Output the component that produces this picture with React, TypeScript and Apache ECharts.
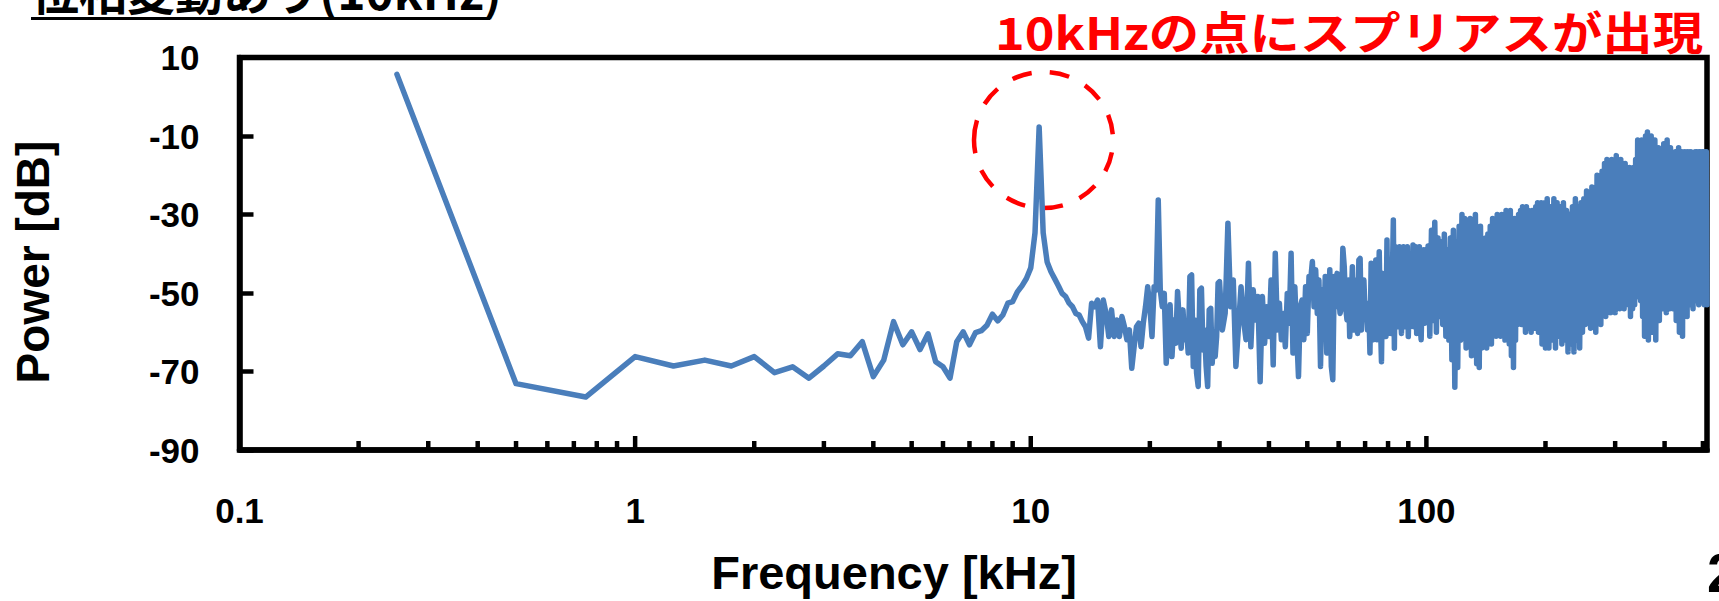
import React, { useEffect, useRef } from 'react';
import * as echarts from 'echarts';

// Power [dB].
// Segment A: bins every 0.25 kHz starting at 0.25 kHz
const powerA: number[] = [
  5.7, -73.1, -76.5, -66.2, -68.6, -67.1, -68.6, -66.2, -70.3, -68.8,
  -71.7, -68.6, -65.5, -66.0, -62.4, -71.3, -67.1, -57.3, -63.2, -59.9,
  -64.4, -60.4, -67.5, -68.8, -71.7, -62.4, -59.9, -63.2, -60.1, -59.6,
  -58.2, -55.4, -57.1, -55.6, -52.6, -52.2, -49.7, -48.2, -46.3, -43.6,
  -34.7, -7.7, -34.7, -42.1, -44.6, -46.4, -48.2, -50.1, -50.9, -52.6,
  -53.5, -55.2, -55.6, -57.3, -58.6, -61.5, -52.6, -53.5, -51.8, -63.7,
  -51.8, -55.2, -61.1, -54.3, -61.1, -56.9, -61.1, -56.0, -58.6, -61.9,
  -59.4, -69.2, -63.7, -58.6, -57.7, -63.7, -57.7, -53.5, -48.4, -53.5,
  -61.1, -48.4, -49.2, -26.3, -49.2, -53.5, -50.1, -67.9, -57.7, -53.0,
  -66.2, -56.9, -62.8, -49.6, -57.7, -64.1, -54.3, -61.9, -58.6, -65.3,
  -45.8, -45.4, -68.7, -56.9, -70.4, -73.8, -49.2, -48.8, -64.5, -59.4,
  -68.7, -73.8, -54.3, -53.9, -67.9, -59.8, -66.2, -61.1, -47.5, -47.1,
];
// Segment B: every 0.5 kHz from 30.5 kHz
const powerB: number[] = [
  -59.4, -55.2, -32.2, -53.5, -46.7, -68.7, -58.6, -48.4, -56.9, -61.9,
  -42.4, -63.7, -49.2, -56.9, -50.9, -72.6, -50.9, -62.8, -53.5, -61.1,
  -46.7, -68.3, -39.9, -59.4, -52.6, -61.9, -55.2, -63.7, -50.1, -57.7,
  -39.9, -65.3, -48.4, -60.3, -71.3, -53.5, -51.8, -61.9, -48.4, -60.3,
  -45.8, -46.7, -42.0, -53.5, -44.1, -55.2, -46.7, -68.7, -49.2, -61.1,
  -45.8, -65.3, -55.2, -44.1, -68.7, -72.1, -45.8, -53.5, -45.0, -50.1,
  -55.2, -53.5, -38.6, -43.3, -53.5, -56.9, -46.7, -61.1, -53.5, -43.3,
  -59.4, -46.7, -55.2, -60.3, -41.6, -41.2, -59.4, -49.2, -46.7, -55.2,
  -52.6, -59.4, -52.6, -65.3, -42.4, -55.2, -61.9, -49.2, -41.6, -61.9,
  -53.5, -39.5, -56.9, -67.5, -45.0, -55.2, -49.2, -61.1, -36.5, -60.3,
  -48.4, -55.2, -60.3, -46.7, -31.4, -64.1, -38.2, -50.9, -58.6, -53.5,
  -38.2, -55.2, -60.3, -49.2, -38.2, -58.6, -46.7, -53.5, -38.2, -61.1,
  -50.1, -58.6, -40.8, -53.5, -37.8, -58.6, -50.9, -38.2, -60.3, -56.9,
  -49.2, -38.2, -58.6, -61.9, -50.9, -43.3, -39.0, -57.7, -53.5, -49.2,
];
// Segment C1: every 1 kHz from 101 kHz
const powerC1: number[] = [
  -38, -61, -34, -57, -32, -60, -36, -56, -37, -58,
  -35, -61, -39, -62, -36, -67, -34, -74, -37, -69,
  -33, -62, -30, -59, -31, -64, -33, -61, -31, -66,
  -32, -63, -30, -68, -35, -69, -33, -64, -38, -62,
  -36, -64, -35, -60, -33, -63, -31, -59, -33, -61,
  -30, -58, -31, -61, -30, -59, -32, -62, -29, -60,
  -30, -63, -29, -66, -32, -69, -31, -62, -34, -58,
  -30, -56, -29, -58, -28, -55, -30, -60, -28, -59,
  -29, -57, -31, -60, -29, -56, -30, -59, -28, -58,
  -27, -60, -29, -58, -27, -63, -30, -61, -27, -64,
];
// Segment C2: every 2 kHz from 202 kHz
const powerC2: number[] = [
  -26, -64, -28, -62, -26, -64, -27, -61, -28, -63,
  -27, -62, -29, -65, -30, -63, -28, -65, -26, -62,
  -28, -64, -27, -60, -26, -58, -24, -56, -25, -59,
  -23, -57, -24, -60, -20, -57, -22, -58, -19, -55,
  -17, -56, -16, -53, -18, -55, -16, -53, -17, -55,
  -15, -52, -18, -54, -16, -52, -19, -54, -17, -52,
  -20, -53, -18, -56, -21, -54, -18, -53, -16, -51,
  -11, -50, -13, -52, -11, -56, -12, -61, -10, -58,
  -9, -62, -11, -57, -10, -60, -12, -56, -11, -62,
  -15, -54, -13, -57, -16, -51, -14, -54, -12, -51,
  -12, -55, -11, -52, -14, -54, -13, -51, -15, -54,
  -16, -52, -14, -57, -15, -53, -13, -60, -14, -56,
  -14, -61, -16, -54, -14, -52, -15, -56, -14, -51,
  -15, -53, -14, -50, -16, -54, -15, -50, -14, -52,
  -16, -50, -14, -53, -15, -51, -14, -52, -16, -50,
  -14, -53, -15, -51, -14, -53,
];

const xMin = 0.1;
const xMax = 512;
const yMin = -90;
const yMax = 10;
const yStep = 20;
const majorTicks: number[] = [1, 10, 100];
const minorTicks: number[] = [
  0.2, 0.3, 0.4, 0.5, 0.6, 0.7, 0.8, 0.9,
  2, 3, 4, 5, 6, 7, 8, 9,
  20, 30, 40, 50, 60, 70, 80, 90,
  200, 300, 400, 500,
];

const titleText = '位相変動あり(10kHz)';
const noteText = '10kHzの点にスプリアスが出現';
const xName = 'Frequency [kHz]';
const yName = 'Power [dB]';
const pageNo = '2';

function buildPoints(): number[][] {
  const pts: number[][] = [];
  powerA.forEach((v, i) => pts.push([0.25 * (i + 1), v]));
  powerB.forEach((v, i) => pts.push([30.5 + 0.5 * i, v]));
  powerC1.forEach((v, i) => pts.push([101 + i, v]));
  powerC2.forEach((v, i) => pts.push([202 + 2 * i, v]));
  return pts;
}

const LATIN = '"Liberation Sans", Arial, sans-serif';
const CJK = '"Noto Sans CJK JP", "Noto Sans", sans-serif';

function tickSeries(ticks: number[], len: number) {
  return {
    type: 'custom',
    coordinateSystem: 'cartesian2d',
    silent: true,
    clip: false,
    z: 6,
    data: ticks.map((f) => [f, yMin]),
    renderItem: (_params: any, api: any) => {
      const p = api.coord([api.value(0), api.value(1)]);
      return {
        type: 'line',
        shape: { x1: p[0], y1: p[1], x2: p[0], y2: p[1] - len },
        style: { stroke: '#000', lineWidth: 4.5 },
      };
    },
  };
}

export default function App() {
  const ref = useRef<HTMLDivElement>(null);
  useEffect(() => {
    if (!ref.current) return;
    const chart = echarts.init(ref.current, null, { renderer: 'svg' });
    const option: any = {
      animation: false,
      backgroundColor: '#fff',
      grid: {
        left: 239.5,
        right: 12,
        top: 57.5,
        bottom: 151,
        show: true,
        borderColor: '#000',
        borderWidth: 5.5,
        backgroundColor: 'transparent',
      },
      xAxis: {
        type: 'log',
        logBase: 10,
        min: xMin,
        max: xMax,
        axisLine: { onZero: false, lineStyle: { color: '#000', width: 5.5 } },
        axisTick: { show: false },
        splitLine: { show: false },
        minorTick: { show: false },
        axisLabel: {
          color: '#000',
          fontSize: 35,
          fontWeight: 'bold',
          fontFamily: LATIN,
          margin: 43,
          showMaxLabel: false,
          formatter: (v: number) => {
            const l = Math.log10(v);
            if (Math.abs(l - Math.round(l)) > 1e-6 || v > 100) return '';
            return v < 1 ? v.toFixed(1) : String(Math.round(v));
          },
        },
      },
      yAxis: {
        type: 'value',
        min: yMin,
        max: yMax,
        interval: yStep,
        axisLine: { show: true, onZero: false, lineStyle: { color: '#000', width: 5.5 } },
        axisTick: { show: true, inside: true, length: 14, lineStyle: { color: '#000', width: 4.5 } },
        splitLine: { show: false },
        axisLabel: {
          color: '#000',
          fontSize: 35,
          fontWeight: 'bold',
          fontFamily: LATIN,
          margin: 40,
        },
      },
      series: [
        {
          type: 'line',
          data: buildPoints(),
          showSymbol: false,
          symbol: 'none',
          z: 3,
          lineStyle: { color: '#4A7EBB', width: 5.5, join: 'round', cap: 'round' },
        },
        tickSeries(minorTicks, 9),
        tickSeries(majorTicks, 14),
      ],
      graphic: [
        {
          type: 'text',
          x: 31,
          y: -11,
          style: {
            text: titleText,
            fill: '#000',
            fontSize: 48,
            fontWeight: 'bold',
            fontFamily: CJK,
            textAlign: 'left',
            textVerticalAlign: 'middle',
          },
        },
        {
          type: 'line',
          shape: { x1: 31, y1: 18.5, x2: 490, y2: 18.5 },
          style: { stroke: '#000', lineWidth: 3 },
        },
        {
          type: 'text',
          x: 995,
          y: 31,
          scaleX: 1.12,
          style: {
            text: noteText,
            fill: '#FF0000',
            fontSize: 45,
            fontWeight: 'bold',
            fontFamily: CJK,
            textAlign: 'left',
            textVerticalAlign: 'middle',
          },
        },
        {
          type: 'ellipse',
          shape: { cx: 1043.5, cy: 140, rx: 69.5, ry: 68 },
          style: { fill: 'none', stroke: '#FF0000', lineWidth: 4.5, lineDash: [20, 18] },
          z: 1,
        },
        {
          type: 'text',
          x: 33,
          y: 262,
          rotation: Math.PI / 2,
          style: {
            text: yName,
            fill: '#000',
            fontSize: 46,
            fontWeight: 'bold',
            fontFamily: LATIN,
            textAlign: 'center',
            textVerticalAlign: 'middle',
          },
        },
        {
          type: 'text',
          x: 894,
          y: 572,
          style: {
            text: xName,
            fill: '#000',
            fontSize: 47,
            fontWeight: 'bold',
            fontFamily: LATIN,
            textAlign: 'center',
            textVerticalAlign: 'middle',
          },
        },
        {
          type: 'text',
          x: 1707,
          y: 572,
          style: {
            text: pageNo,
            fill: '#000',
            fontSize: 56,
            fontWeight: 'bold',
            fontFamily: LATIN,
            textAlign: 'left',
            textVerticalAlign: 'middle',
          },
        },
      ],
    };
    chart.setOption(option);
    return () => chart.dispose();
  }, []);
  return (
    <div
      ref={ref}
      style={{ position: 'fixed', left: 0, top: 0, width: 1719, height: 601, background: '#fff' }}
    />
  );
}
